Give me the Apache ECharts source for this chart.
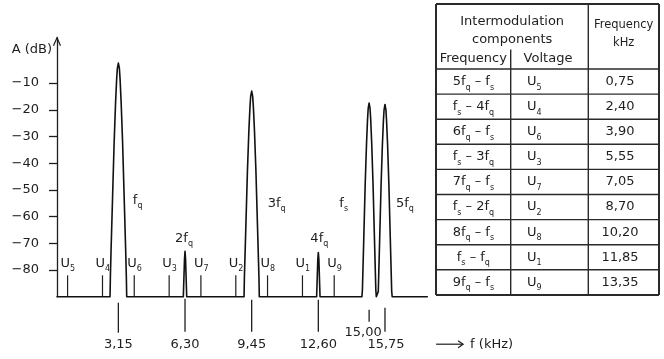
<!DOCTYPE html>
<html><head><meta charset="utf-8">
<script src="https://cdn.jsdelivr.net/npm/echarts@6/dist/echarts.min.js"></script>
<style>html,body{margin:0;padding:0;background:#fff}#c{width:664px;height:359px}</style>
</head><body><div id="c"></div>
<script>
// ---------------- data ----------------
// spectrum trace: frequency (kHz) and level (dB)
const spectrumFreq = [0.25,
  2.756,2.773,2.805,2.877,2.949,3.017,3.069,3.102,3.15,3.198,3.231,3.283,3.351,3.423,3.495,3.527,3.544,
  6.22,6.275,6.30,6.325,6.38,
  9.09,9.105,9.177,9.249,9.317,9.369,9.402,9.45,9.498,9.531,9.583,9.651,9.723,9.795,9.81,
  12.52,12.575,12.60,12.625,12.68,
  14.66,14.683,14.75,14.816,14.878,14.926,14.956,15.00,15.044,15.074,15.122,15.184,15.25,15.317,15.34,
  15.41,15.433,15.50,15.566,15.628,15.676,15.706,15.75,15.794,15.824,15.872,15.934,16.00,16.067,16.09,
  17.75];
const spectrumDb = [-90,
  -90,-82.5,-72.5,-52.5,-32.5,-17.5,-8.5,-4.5,-2.5,-4.5,-8.5,-17.5,-32.5,-52.5,-72.5,-82.5,-90,
  -90,-76,-73,-76,-90,
  -90,-83,-63,-43,-28,-19,-15,-13,-15,-19,-28,-43,-63,-83,-90,
  -90,-76,-73.5,-76,-90,
  -90,-87.5,-67.5,-47.5,-32.5,-23.5,-19.5,-17.5,-19.5,-23.5,-32.5,-47.5,-67.5,-87.5,-90,
  -90,-88,-68,-48,-33,-24,-20,-18,-20,-24,-33,-48,-68,-88,-90,
  -90];

// intermodulation components (table + markers)
const imFormulas = ['5f_q – f_s','f_s – 4f_q','6f_q – f_s','f_s – 3f_q','7f_q – f_s','f_s – 2f_q','8f_q – f_s','f_s – f_q','9f_q – f_s'];
const imVoltages = ['U_5','U_4','U_6','U_3','U_7','U_2','U_8','U_1','U_9'];
const imFreqs = [0.75,2.40,3.90,5.55,7.05,8.70,10.20,11.85,13.35];
const uMarkerTop = -82;

// main spectral lines
const peakNames = ['f_q','2f_q','3f_q','4f_q','f_s','5f_q'];
const peakFreqs = [3.15,6.30,9.45,12.60,15.00,15.75];

// x tick labels
const xTickFreqs = [3.15,6.30,9.45,12.60,15.00,15.75];
const xTickLabels = ['3,15','6,30','9,45','12,60','15,00','15,75'];

// y ticks
const yTickValues = [-80,-70,-60,-50,-40,-30,-20,-10];

// table header texts
const headerGroup = ['Intermodulation','components'];
const headerSub = ['Frequency','Voltage'];
const headerFreq = ['Frequency','kHz'];

// ---------------- layout / style ----------------
const X_MIN = 0.25, X_MAX = 18, Y_MIN = -90, Y_MAX = 7;
const FONT = 'DejaVu Sans';
const INK = '#1e1e1e';
const RICH = {
  n: {fontSize: 13, fontFamily: FONT, fill: INK, lineHeight: 20},
  s: {fontSize: 8, fontFamily: FONT, fill: INK, lineHeight: 10, verticalAlign: 'bottom'}
};
function toRich(str) {
  const parts = str.split(/_(.)/);
  let out = '';
  parts.forEach((p, i) => { if (p) out += (i % 2 ? '{s|' : '{n|') + p + '}'; });
  return out;
}
function fmtComma(v) { return v.toFixed(2).replace('.', ','); }

// tick layout: [tickStart, tickEnd, labelY, labelDx] in px from the floor line
const xTickLayout = [[6,36,48,0],[2,35,48,0],[3,35,48,0],[3,35,48,0],[13,25,36,-6],[11,35,48,1]];
// peak label layout: [dx, dyFromFloor, align]
const peakLabelLayout = [[14.5,-96.5,'left'],[-1,-58.5,'center'],[16,-93.5,'left'],[1,-58.5,'center'],[-21,-93.5,'right'],[11,-93.5,'left']];

const chart = echarts.init(document.getElementById('c'), null, {renderer: 'canvas'});

const option = {
  animation: false,
  backgroundColor: '#fff',
  grid: {left: 57, right: 231.4, top: 37.7, bottom: 62.3, containLabel: false, outerBoundsMode: 'none'},
  xAxis: {type: 'value', min: X_MIN, max: X_MAX, show: false},
  yAxis: {
    type: 'value', min: Y_MIN, max: Y_MAX,
    axisLine: {show: true, onZero: false, lineStyle: {color: INK, width: 1.3}},
    axisTick: {show: true, inside: false, length: 8, customValues: yTickValues, lineStyle: {color: INK, width: 1.3}},
    axisLabel: {show: true, customValues: yTickValues, margin: 18, color: INK, fontSize: 13, fontFamily: FONT,
      formatter: v => '\u2212' + Math.abs(v)},
    splitLine: {show: false}
  },
  series: [
    {
      type: 'line', silent: true, showSymbol: false, symbol: 'none', clip: false, z: 5,
      data: spectrumFreq.map((f, i) => [f, spectrumDb[i]]),
      lineStyle: {color: '#111', width: 1.6, join: 'round', cap: 'round'}
    },
    {
      type: 'custom', coordinateSystem: 'cartesian2d', silent: true, clip: false, z: 4,
      data: imFreqs.map((f, i) => [f, uMarkerTop, i]),
      renderItem: (params, api) => {
        const f = api.value(0), top = api.value(1), i = api.value(2);
        const b = api.coord([f, Y_MIN]), t = api.coord([f, top]);
        return {type: 'group', children: [
          {type: 'line', shape: {x1: b[0], y1: b[1], x2: t[0], y2: t[1]}, style: {stroke: INK, lineWidth: 1.2}},
          {type: 'text', x: t[0] - 7, y: t[1] - 12, style: {text: toRich(imVoltages[i]), rich: RICH,
            align: 'left', verticalAlign: 'middle', textAlign: 'left', textVerticalAlign: 'middle'}}
        ]};
      }
    },
    {
      type: 'custom', coordinateSystem: 'cartesian2d', silent: true, clip: false, z: 4,
      data: xTickFreqs.map((f, i) => [f, Y_MIN, i]),
      renderItem: (params, api) => {
        const f = api.value(0), i = api.value(2);
        const b = api.coord([f, Y_MIN]);
        const L = xTickLayout[i];
        return {type: 'group', children: [
          {type: 'line', shape: {x1: b[0], y1: b[1] + L[0], x2: b[0], y2: b[1] + L[1]}, style: {stroke: INK, lineWidth: 1.3}},
          {type: 'text', x: b[0] + L[3], y: b[1] + L[2], style: {text: xTickLabels[i], fill: INK, fontSize: 13, fontFamily: FONT,
            align: 'center', verticalAlign: 'middle', textAlign: 'center', textVerticalAlign: 'middle'}}
        ]};
      }
    },
    {
      type: 'custom', coordinateSystem: 'cartesian2d', silent: true, clip: false, z: 4,
      data: peakFreqs.map((f, i) => [f, Y_MIN, i]),
      renderItem: (params, api) => {
        const f = api.value(0), i = api.value(2);
        const b = api.coord([f, Y_MIN]);
        const L = peakLabelLayout[i];
        return {type: 'text', x: b[0] + L[0], y: b[1] + L[1], style: {text: toRich(peakNames[i]), rich: RICH,
          align: L[2], verticalAlign: 'middle', textAlign: L[2], textVerticalAlign: 'middle'}};
      }
    }
  ]
};
chart.setOption(option);

// ---------- decorations: axis arrows, axis names, table ----------
const tip = chart.convertToPixel({xAxisIndex: 0, yAxisIndex: 0}, [X_MIN, Y_MAX]);
const floorPt = chart.convertToPixel({xAxisIndex: 0, yAxisIndex: 0}, [X_MAX, Y_MIN]);
const g = [];
g.push({type: 'polyline', shape: {points: [[tip[0] - 3.5, tip[1] + 8], [tip[0], tip[1]], [tip[0] + 3.5, tip[1] + 8]]},
  style: {stroke: INK, lineWidth: 1.2, fill: null}, silent: true});
g.push({type: 'text', x: tip[0] - 5, y: tip[1] + 12, style: {text: 'A (dB)', fill: INK, fontSize: 13, fontFamily: FONT,
  align: 'right', verticalAlign: 'middle', textAlign: 'right', textVerticalAlign: 'middle'}, silent: true});
const ax = floorPt[0] + 3.5, ay = floorPt[1] + 47.5;
g.push({type: 'line', shape: {x1: ax, y1: ay, x2: ax + 27, y2: ay}, style: {stroke: INK, lineWidth: 1.2}, silent: true});
g.push({type: 'polyline', shape: {points: [[ax + 22, ay - 3.5], [ax + 27, ay], [ax + 22, ay + 3.5]]}, style: {stroke: INK, lineWidth: 1.2, fill: null}, silent: true});
g.push({type: 'text', x: ax + 34, y: ay, style: {text: 'f (kHz)', fill: INK, fontSize: 13, fontFamily: FONT,
  align: 'left', verticalAlign: 'middle', textAlign: 'left', textVerticalAlign: 'middle'}, silent: true});

// table
const T = {x0: 436, x1: 510.7, x2: 588.3, x3: 659, y0: 4, yH: 69, rowH: 25.1};
const nRows = imFormulas.length;
const yBot = T.yH + nRows * T.rowH;
const TL = '#2a2a2a';
function hl(x1, x2, y, w) { g.push({type: 'line', shape: {x1, y1: y, x2, y2: y}, style: {stroke: TL, lineWidth: w}, silent: true}); }
function vl(x, y1, y2, w) { g.push({type: 'line', shape: {x1: x, y1, x2: x, y2}, style: {stroke: TL, lineWidth: w}, silent: true}); }
function txt(s, x, y, align, rich, size) {
  const st = rich ? {text: toRich(s), rich: RICH} : {text: s, fill: INK, fontSize: size || 13, fontFamily: FONT};
  st.align = align; st.textAlign = align; st.verticalAlign = 'middle'; st.textVerticalAlign = 'middle';
  g.push({type: 'text', x, y, style: st, silent: true});
}
hl(T.x0, T.x3, T.y0, 2); hl(T.x0, T.x3, yBot, 2);
vl(T.x0, T.y0, yBot, 2); vl(T.x3, T.y0, yBot, 2);
vl(T.x2, T.y0, yBot, 1.4);
vl(T.x1, 49.5, yBot, 1.4);
for (let r = 0; r < nRows; r++) hl(T.x0, T.x3, T.yH + r * T.rowH, 1.4);
txt(headerGroup[0], (T.x0 + T.x2) / 2, 21.5, 'center');
txt(headerGroup[1], (T.x0 + T.x2) / 2, 39.5, 'center');
txt(headerSub[0], (T.x0 + T.x1) / 2, 58.5, 'center');
txt(headerSub[1], 548, 58.5, 'center');
txt(headerFreq[0], (T.x2 + T.x3) / 2, 25, 'center', false, 11.5);
txt(headerFreq[1], (T.x2 + T.x3) / 2, 43.5, 'center', false, 11.5);
for (let r = 0; r < nRows; r++) {
  const cy = T.yH + (r + 0.5) * T.rowH;
  txt(imFormulas[r], (T.x0 + T.x1) / 2, cy, 'center', true);
  txt(imVoltages[r], 527, cy, 'left', true);
  txt(fmtComma(imFreqs[r]), 620, cy, 'center');
}
chart.setOption({graphic: {elements: g}});
</script>
</body></html>
